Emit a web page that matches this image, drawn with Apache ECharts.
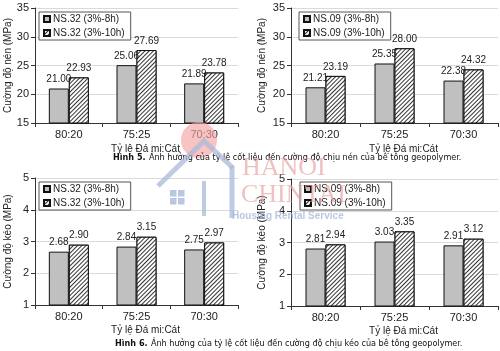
<!DOCTYPE html>
<html><head><meta charset="utf-8">
<script src="https://cdn.jsdelivr.net/npm/echarts@6/dist/echarts.min.js"></script>
<style>html,body{margin:0;padding:0;background:#fff}#c{width:500px;height:351px}</style>
</head><body><div id="c"></div>
<script>
const categories = ['80:20', '75:25', '70:30'];
const name32a = 'NS.32 (3%-8h)';
const name32b = 'NS.32 (3%-10h)';
const name09a = 'NS.09 (3%-8h)';
const name09b = 'NS.09 (3%-10h)';
const ns32Nen8h = [21.00, 25.06, 21.89];
const ns32Nen10h = [22.93, 27.69, 23.78];
const ns09Nen8h = [21.21, 25.35, 22.38];
const ns09Nen10h = [23.19, 28.00, 24.32];
const ns32Keo8h = [2.68, 2.84, 2.75];
const ns32Keo10h = [2.90, 3.15, 2.97];
const ns09Keo8h = [2.81, 3.03, 2.91];
const ns09Keo10h = [2.94, 3.35, 3.12];
const nenAxis = { min: 15, max: 35, interval: 5 };
const keoAxis = { min: 1, max: 5, interval: 1 };
const xTitle = 'Tỷ lệ Đá mi:Cát';
const yTitleNen = 'Cường độ nén (MPa)';
const yTitleKeo = 'Cường độ kéo (MPa)';
const caption5 = 'Ảnh hưởng của tỷ lệ cốt liệu đến cường độ chịu nén của bê tông geopolymer.';
const caption6 = 'Ảnh hưởng của tỷ lệ cốt liệu đến cường độ chịu kéo của bê tông geopolymer.';

const FONT = 'Liberation Sans, Arial, sans-serif';
const TXT = '#222';

const grids = [
  { left: 35, top: 8, width: 203, height: 115 },
  { left: 291, top: 8, width: 207, height: 115 },
  { left: 35, top: 178, width: 203, height: 127 },
  { left: 291, top: 179, width: 207, height: 127 }
];

function xAxis(i, gap) {
  return {
    type: 'category', gridIndex: i, data: categories,
    name: xTitle, nameLocation: 'middle', nameGap: gap,
    nameTextStyle: { fontFamily: FONT, fontSize: 10, color: TXT, padding: [0, 0, 0, 18] },
    axisLine: { lineStyle: { color: '#333', width: 1 } },
    axisTick: { show: true, length: 4, lineStyle: { color: '#333' } },
    axisLabel: { fontFamily: FONT, fontSize: 11, color: TXT, margin: 6 }
  };
}
function yAxis(i, ax, title, gap) {
  return {
    type: 'value', gridIndex: i, min: ax.min, max: ax.max, interval: ax.interval,
    name: title, nameLocation: 'middle', nameGap: gap,
    nameTextStyle: { fontFamily: FONT, fontSize: 10, color: TXT },
    axisLine: { show: true, lineStyle: { color: '#333', width: 1 } },
    axisTick: { show: true, length: 4, lineStyle: { color: '#333' } },
    axisLabel: { fontFamily: FONT, fontSize: 11, color: TXT, margin: 6 },
    splitLine: { show: true, lineStyle: { color: '#dadada', width: 1 } }
  };
}
const decal = {
  symbol: 'rect', symbolSize: 1, dashArrayX: [[1, 0]], dashArrayY: [1, 2],
  rotation: -Math.PI / 4, color: '#333', backgroundColor: '#fff'
};
function bar(name, data, i, hatched) {
  return {
    type: 'bar', name: name, data: data, xAxisIndex: i, yAxisIndex: i,
    barWidth: 20, barGap: '0%',
    itemStyle: hatched
      ? { color: '#fff', borderColor: '#111', borderWidth: 1, decal: decal }
      : { color: '#c0c0c0', borderColor: '#111', borderWidth: 1 },
    label: {
      show: true, position: 'top', distance: 4,
      fontFamily: FONT, fontSize: 10, color: TXT,
      formatter: p => p.value.toFixed(2)
    },
    emphasis: { disabled: true }, animation: false
  };
}
function legend(left, top, names) {
  return {
    left: left, top: top, orient: 'vertical', data: names,
    backgroundColor: '#fff', borderColor: '#555', borderWidth: 1,
    padding: [2, 6, 2, 4], itemGap: 4, itemWidth: 6, itemHeight: 6,
    icon: 'rect', selectedMode: false,
    textStyle: { fontFamily: FONT, fontSize: 10, color: TXT, padding: [0, 0, 0, -2] }
  };
}
const capRich = {
  b: { fontFamily: 'Liberation Sans Narrow, DejaVu Sans Condensed, sans-serif', fontWeight: 'bold', fontSize: 9, fill: '#111' },
  n: { fontFamily: 'Liberation Sans Narrow, DejaVu Sans Condensed, sans-serif', fontSize: 9, fill: '#111' }
};
const wm = '#a9b9d9';
const option = {
  backgroundColor: '#fff',
  animation: false,
  grid: grids,
  xAxis: [xAxis(0, 21), xAxis(1, 21), xAxis(2, 20), xAxis(3, 20)],
  yAxis: [
    yAxis(0, nenAxis, yTitleNen, 22), yAxis(1, nenAxis, yTitleNen, 24),
    yAxis(2, keoAxis, yTitleKeo, 22), yAxis(3, keoAxis, yTitleKeo, 24)
  ],
  legend: [
    legend(39, 12, [name32a, name32b]),
    legend(299, 12, [name09a, name09b]),
    legend(39, 182, [name32a, name32b]),
    legend(300, 182, [name09a, name09b])
  ],
  series: [
    bar(name32a, ns32Nen8h, 0, false), bar(name32b, ns32Nen10h, 0, true),
    bar(name09a, ns09Nen8h, 1, false), bar(name09b, ns09Nen10h, 1, true),
    bar(name32a, ns32Keo8h, 2, false), bar(name32b, ns32Keo10h, 2, true),
    bar(name09a, ns09Keo8h, 3, false), bar(name09b, ns09Keo10h, 3, true)
  ],
  graphic: [
    { type: 'circle', z: 50, shape: { cx: 199, cy: 140, r: 18 }, style: { fill: '#f2a3a3', opacity: 0.65 } },
    { type: 'text', z: 60, left: 113, top: 152, style: { text: '{b|Hình 5.} {n|' + caption5 + '}', rich: capRich } },
    { type: 'text', z: 60, left: 115, top: 338, style: { text: '{b|Hình 6.} {n|' + caption6 + '}', rich: capRich } },
    { type: 'polyline', z: 70, shape: { points: [[158, 186], [204, 141], [233, 168]] }, style: { stroke: wm, lineWidth: 5, fill: null, opacity: 0.75 } },
    { type: 'polyline', z: 70, shape: { points: [[232, 166], [232, 218]] }, style: { stroke: wm, lineWidth: 5, fill: null, opacity: 0.75 } },
    { type: 'polyline', z: 70, shape: { points: [[204, 181], [204, 216]] }, style: { stroke: wm, lineWidth: 4, fill: null, opacity: 0.75 } },
    { type: 'rect', z: 70, shape: { x: 170, y: 190, width: 6.5, height: 6.5 }, style: { fill: wm, opacity: 0.8 } },
    { type: 'rect', z: 70, shape: { x: 178, y: 190, width: 6.5, height: 6.5 }, style: { fill: wm, opacity: 0.8 } },
    { type: 'rect', z: 70, shape: { x: 170, y: 198, width: 6.5, height: 6.5 }, style: { fill: wm, opacity: 0.8 } },
    { type: 'rect', z: 70, shape: { x: 178, y: 198, width: 6.5, height: 6.5 }, style: { fill: wm, opacity: 0.8 } },
    { type: 'text', z: 70, left: 242, top: 155, style: { text: 'HANOI', font: '26px Liberation Serif', fill: '#e7a0a0', opacity: 0.65 } },
    { type: 'text', z: 70, left: 241, top: 182, style: { text: 'CHINTAI', font: '26px Liberation Serif', fill: '#e7a0a0', opacity: 0.65 } },
    { type: 'text', z: 70, left: 232, top: 211, style: { text: 'Housing Rental Service', font: 'bold 10px Liberation Sans', fill: wm, opacity: 0.8 } }
  ]
};
const chart = echarts.init(document.getElementById('c'), null, { renderer: 'canvas' });
chart.setOption(option);
</script></body></html>
